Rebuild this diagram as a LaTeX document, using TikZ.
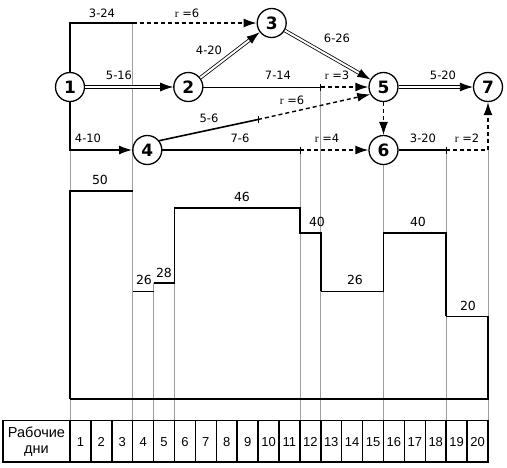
\documentclass[tikz,border=0pt]{standalone}
\usepackage{fontspec}
\setmainfont{DejaVu Sans}
\newfontfamily\tabfont{Liberation Sans}
\newfontfamily\serfont{Liberation Serif}
\usetikzlibrary{arrows.meta}
\begin{document}
\begin{tikzpicture}[x=1pt,y=-1pt,
  ev/.style={circle,draw,line width=1.3pt,minimum size=29pt,inner sep=0pt,fill=white,font=\bfseries\fontsize{17}{17}\selectfont},
  lbl/.style={font=\fontsize{11.5}{11.5}\selectfont,inner sep=0pt},
  hl/.style={font=\fontsize{12.5}{12.5}\selectfont,inner sep=0pt},
  tl/.style={font=\tabfont\fontsize{13}{15}\selectfont,inner sep=0pt,align=center},
  tw/.style={font=\tabfont\fontsize{14.5}{16}\selectfont,inner sep=0pt,align=center},
  tip/.style={-{Latex[length=13pt,width=9pt]}},
  crit/.style={draw,double,double distance=2pt,line width=0.8pt},
  thk/.style={line width=1.6pt},
  thn/.style={line width=0.8pt},
  dsh/.style={line width=1.4pt,dash pattern=on 4pt off 3pt},
  dshn/.style={line width=1pt,dash pattern=on 4pt off 3pt},
  gridl/.style={draw=gray!75,line width=0.7pt},
  hthick/.style={line width=1.7pt},
  hthin/.style={line width=0.9pt},
  tab/.style={line width=1.5pt},
  rr/.style={lbl}
]
\useasboundingbox (0,0) rectangle (507,467);

% coordinates
\coordinate (a13) at (132.7,23);
\coordinate (a25) at (320.8,87);
\coordinate (a45) at (258,119.5);
\coordinate (a46) at (299.9,150);
\coordinate (a67) at (446.2,150);
\coordinate (b67) at (488,150);
\coordinate (g0) at (70,150);
\coordinate (g4) at (153.6,282.8);
\coordinate (g5) at (174.5,282.8);
\coordinate (gb0) at (70,420.7);
\coordinate (gb3) at (132.7,420.7);
\coordinate (gb4) at (153.6,420.7);
\coordinate (gb5) at (174.5,420.7);
\coordinate (gb11) at (299.9,420.7);
\coordinate (gb12) at (320.8,420.7);
\coordinate (gb15) at (383.5,420.7);
\coordinate (gb18) at (446.2,420.7);
\coordinate (gb20) at (488,420.7);

% grid lines
\draw[gridl] (g0) -- (gb0);
\draw[gridl] (a13) -- (gb3);
\draw[gridl] (g4) -- (gb4);
\draw[gridl] (g5) -- (gb5);
\draw[gridl] (a46) -- (gb11);
\draw[gridl] (a25) -- (gb12);
\draw[gridl] (383.5,165) -- (gb15);
\draw[gridl] (a67) -- (gb18);
\draw[gridl] (b67) -- (gb20);

% events
\node[ev] (n1) at (70,87) {1};
\node[ev] (n2) at (188.3,87) {2};
\node[ev] (n3) at (271.7,23) {3};
\node[ev] (n4) at (147.3,150) {4};
\node[ev] (n5) at (383.5,87) {5};
\node[ev] (n6) at (383.5,150) {6};
\node[ev] (n7) at (488,87) {7};

% activities
\draw[thk] (n1.north) |- (a13);
\draw[dsh,tip] (a13) -- (n3);
\draw[crit,tip] (n1) -- (n2);
\draw[crit,tip] (n2) -- (n3);
\draw[crit,tip] (n3) -- (n5);
\draw[crit,tip] (n5) -- (n7);
\draw[thn] (n2) -- (a25);
\draw[dsh,tip] (a25) -- (n5);
\draw[thk] (n4.38) -- (a45);
\draw[dsh,tip] (a45) -- (n5.209);
\draw[thk] (n4) -- (a46);
\draw[dsh,tip] (a46) -- (n6);
\draw[thk,tip] (n1.south) |- (n4);
\draw[dshn,tip] (n5) -- (n6);
\draw[thk] (n6) -- (a67);
\draw[dsh,tip] (a67) -- (b67) -- (n7);

% ticks
\foreach \c in {a25,a45,a46,a67} \draw[thn] (\c) ++(0,-3.5) -- ++(0,7);

% activity labels
\node[lbl] (l13) at (102,13) {3-24};
\node[rr] (r13) at (187,13) {{\serfont r} =6};
\node[lbl] (l12) at (119,75) {5-16};
\node[lbl] (l23) at (209,50) {4-20};
\node[lbl] (l35) at (337,38) {6-26};
\node[lbl] (l57) at (443,75) {5-20};
\node[lbl] (l25) at (278,75) {7-14};
\node[rr] (r25) at (337,75) {{\serfont r} =3};
\node[lbl] (l45) at (209,118) {5-6};
\node[rr] (r45) at (292,100) {{\serfont r} =6};
\node[lbl] (l46) at (240,138) {7-6};
\node[rr] (r46) at (327,138) {{\serfont r} =4};
\node[lbl] (l14) at (88,138) {4-10};
\node[lbl] (l67) at (423,138) {3-20};
\node[rr] (r67) at (467,138) {{\serfont r} =2};

% histogram
\draw[hthick] (70,399.3) -- (70,191.3) -- (132.7,191.3);
\draw[hthin] (132.7,291.1) -- (153.6,291.1);
\draw[hthick] (153.6,282.8) -- (174.5,282.8) -- (174.5,208) -- (299.9,208) -- (299.9,232.9) -- (320.8,232.9) -- (320.8,291.1);
\draw[hthin] (320.8,291.1) -- (383.5,291.1);
\draw[hthick] (383.5,291.1) -- (383.5,232.9) -- (446.2,232.9) -- (446.2,316.1);
\draw[hthin] (446.2,316.1) -- (488,316.1);
\draw[hthick] (488,316.1) -- (488,399.3) -- (70,399.3);
\node[hl] (h1) at (100,180) {50};
\node[hl] (h2) at (144,280) {26};
\node[hl] (h3) at (164,273) {28};
\node[hl] (h4) at (242,197) {46};
\node[hl] (h5) at (317,222) {40};
\node[hl] (h6) at (355,280) {26};
\node[hl] (h7) at (418,222) {40};
\node[hl] (h8) at (468,306) {20};

% table
\draw[tab] (3,420.7) rectangle (488,462);
\draw[tab] (70,420.7) -- (70,462);
\foreach \i in {1,...,19} \draw[tab] ({70+20.9*\i},420.7) -- ({70+20.9*\i},462);
\node[tw] (t0) at (36.5,441.4) {Рабочие\\дни};
\foreach \i in {1,...,20} \node[tl] (d\i) at ({70+20.9*(\i-0.5)},442) {\i};
\end{tikzpicture}
\end{document}
